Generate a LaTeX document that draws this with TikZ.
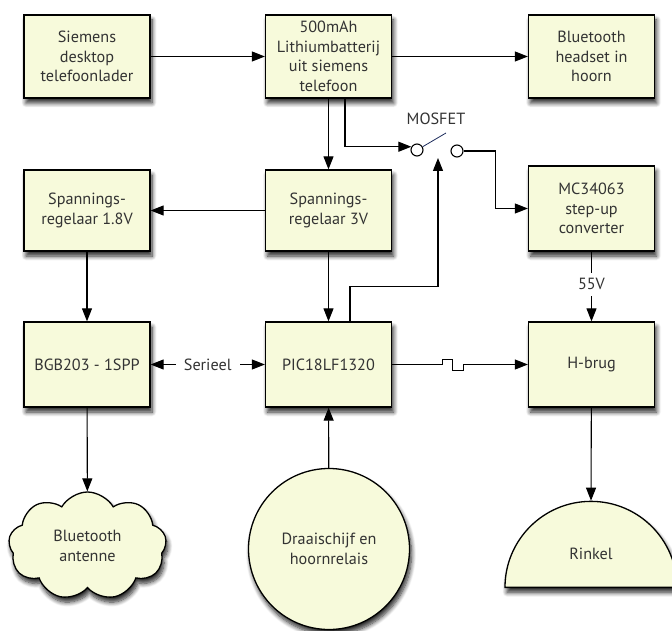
\documentclass[tikz,border=0pt]{standalone}
\usepackage{fontspec}
\setmainfont{PT Sans}
\usetikzlibrary{arrows.meta,shapes.geometric,shapes.symbols,shadows.blur}
\definecolor{blokgeel}{HTML}{F7FADB}
\definecolor{tekst}{HTML}{333333}
\definecolor{schakel}{HTML}{1C2B5C}
\begin{document}
\begin{tikzpicture}[x=1pt,y=-1pt,
  font=\fontsize{16.2}{19.5}\selectfont,
  basis/.style={draw, line width=1.3pt, fill=blokgeel, text=tekst, align=center, inner sep=0pt,
    blur shadow={shadow xshift=2pt, shadow yshift=-5pt, shadow blur steps=8, shadow blur radius=4.5pt, shadow opacity=85}},
  blok/.style={basis, rectangle, minimum width=126pt, minimum height=83pt},
  pijl/.style={line width=1.1pt, -{Triangle[length=13pt,width=10pt]}},
  lijn/.style={line width=1.1pt},
  contact/.style={circle, draw, line width=1.1pt, fill=white, minimum size=12pt, inner sep=0pt}]
\useasboundingbox (0,0) rectangle (672,631);
% bovenste rij
\node[blok] (lader) at (87,56.5) {Siemens\\desktop\\telefoonlader};
\node[blok] (accu) at (328.5,56.5) {500mAh\\Lithiumbatterij\\uit siemens\\telefoon};
\node[blok] (headset) at (591.5,56.5) {Bluetooth\\headset in\\hoorn};
% middelste rij
\node[blok, minimum height=81pt] (reg18) at (87,210.5) {Spannings-\\regelaar 1.8V};
\node[blok, minimum height=81pt] (reg3) at (328.5,210.5) {Spannings-\\regelaar 3V};
\node[blok, minimum height=85pt] (stepup) at (591.5,208.5) {MC34063\\step-up\\converter};
% onderste rij
\node[blok, minimum height=85pt] (bgb) at (87,364.5) {BGB203 - 1SPP};
\node[blok, minimum height=85pt] (pic) at (328.5,364.5) {PIC18LF1320};
\node[blok, minimum height=85pt] (hbrug) at (591.5,364.5) {H-brug};
% vormen onderaan
\node[basis, cloud, cloud puffs=9, cloud puff arc=120, aspect=1.45, minimum width=158pt, minimum height=108pt] (antenne) at (87.5,546) {Bluetooth\\antenne};
\node[basis, circle, minimum size=161pt] (draai) at (329,549) {Draaischijf en\\hoornrelais};
\node[basis, semicircle, minimum width=172pt, anchor=chord center] (rinkel) at (591,588) {};
\node[text=tekst] (rinkeltxt) at (591,554) {Rinkel};
% MOSFET schakelaar
\node[contact] (sw1) at (417,150) {};
\node[contact] (sw2) at (457,151) {};
\coordinate (blad) at (446,133);
\coordinate (gate) at (438,158);
\draw[schakel, line width=0.8pt] (sw1.30) -- (blad);
\node[text=tekst] (mosfet) at (436,119) {MOSFET};
% verbindingen
\draw[pijl] (lader) -- (accu);
\draw[pijl] (accu) -- (headset);
\draw[pijl] (accu) -- (reg3);
\draw[pijl] ([xshift=16.5pt]accu.south) |- (sw1.150);
\draw[pijl] (sw2.east) -- ++(32,0) |- (stepup.west);
\draw[pijl] (reg3) -- (reg18);
\draw[pijl] (reg18) -- (bgb);
\draw[pijl] (reg3) -- (pic);
\draw[pijl] ([xshift=21.5pt]pic.north) -- ++(0,-35) -| (gate);
\draw[pijl] (stepup) -- node[fill=white, text=tekst, inner xsep=2pt, inner ysep=6pt, pos=0.47] (spanning) {55V} (hbrug);
\draw[lijn, {Triangle[length=13pt,width=10pt]}-{Triangle[length=13pt,width=10pt]}] (bgb) -- node[fill=white, text=tekst, inner xsep=8pt, inner ysep=3pt] (serieel) {Serieel} (pic);
\draw[pijl] (pic.east) -- ++(50,0) -- ++(0,-5) -- ++(10,0) -- ++(0,11) -- ++(11,0) -- ++(0,-6) -- (hbrug.west); % blokgolf
\draw[pijl] (hbrug) -- (rinkel.apex);
\draw[pijl] (bgb) -- (antenne);
\draw[pijl] (draai) -- (pic);
\end{tikzpicture}
\end{document}
